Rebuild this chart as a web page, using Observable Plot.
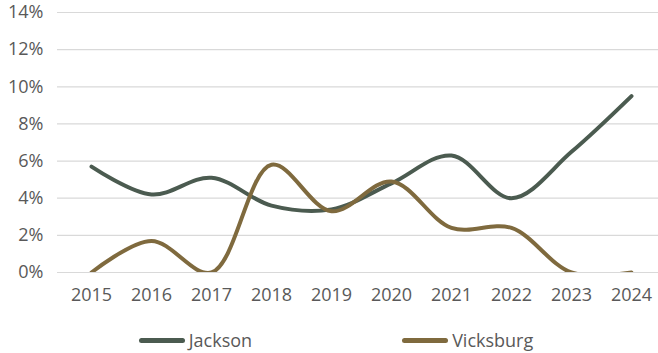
<!DOCTYPE html>
<html>
<head>
<meta charset="utf-8">
<script src="https://cdn.jsdelivr.net/npm/d3@7"></script>
<script src="https://cdn.jsdelivr.net/npm/@observablehq/plot@0.6"></script>
<style>
  html, body { margin: 0; padding: 0; background: #fff; overflow: hidden; }
  body { width: 658px; height: 353px; font-family: "Open Sans", sans-serif; }
  #legend { display: flex; justify-content: center; align-items: center; height: 40px; margin-top: 10px; font-size: 18px; color: #595959; padding-left: 14px; }
  .item { display: flex; align-items: center; }
  .sw { width: 46px; height: 5px; border-radius: 3px; margin-right: 4px; }
</style>
</head>
<body>
<div id="chart"></div>
<div id="legend"></div>
<script>
const years = ["2015","2016","2017","2018","2019","2020","2021","2022","2023","2024"];
const jackson = [5.7, 4.2, 5.1, 3.6, 3.4, 4.8, 6.3, 4.0, 6.5, 9.5];
const vicksburg = [0.0, 1.7, 0.0, 5.8, 3.3, 4.9, 2.4, 2.4, 0.0, 0.0];
const seriesNames = ["Jackson", "Vicksburg"];
const seriesColors = ["#4b5b50", "#7f6a3e"];
const yTicks = [0, 2, 4, 6, 8, 10, 12, 14];

const data = [];
years.forEach((y, i) => {
  data.push({year: y, series: "Jackson", value: jackson[i]});
  data.push({year: y, series: "Vicksburg", value: vicksburg[i]});
});

const chart = Plot.plot({
  width: 658,
  height: 310,
  marginTop: 12,
  marginBottom: 38,
  marginLeft: 57,
  marginRight: 0,
  style: {fontFamily: "'Open Sans', sans-serif", fontSize: "18px", color: "#595959", background: "#fff"},
  x: {type: "point", domain: years, padding: 0.5, insetRight: -6, label: null},
  y: {domain: [0, 14], ticks: yTicks, label: null},
  color: {domain: seriesNames, range: seriesColors},
  marks: [
    Plot.ruleY(yTicks, {stroke: "#d9d9d9", strokeWidth: 1.2}),
    Plot.axisY({ticks: yTicks, tickSize: 0, tickPadding: 14, tickFormat: d => d + "%", label: null}),
    Plot.axisX({tickSize: 0, tickPadding: 16, label: null}),
    Plot.line(data, {x: "year", y: "value", z: "series", stroke: "series", strokeWidth: 4, curve: "catmull-rom", strokeLinecap: "round", clip: true})
  ]
});
document.getElementById("chart").appendChild(chart);

const legend = document.getElementById("legend");
seriesNames.forEach((name, i) => {
  const it = document.createElement("div");
  it.className = "item";
  if (i > 0) it.style.marginLeft = "150px";
  const sw = document.createElement("span");
  sw.className = "sw";
  sw.style.background = seriesColors[i];
  const t = document.createElement("span");
  t.textContent = name;
  it.appendChild(sw);
  it.appendChild(t);
  legend.appendChild(it);
});
</script>
</body>
</html>
